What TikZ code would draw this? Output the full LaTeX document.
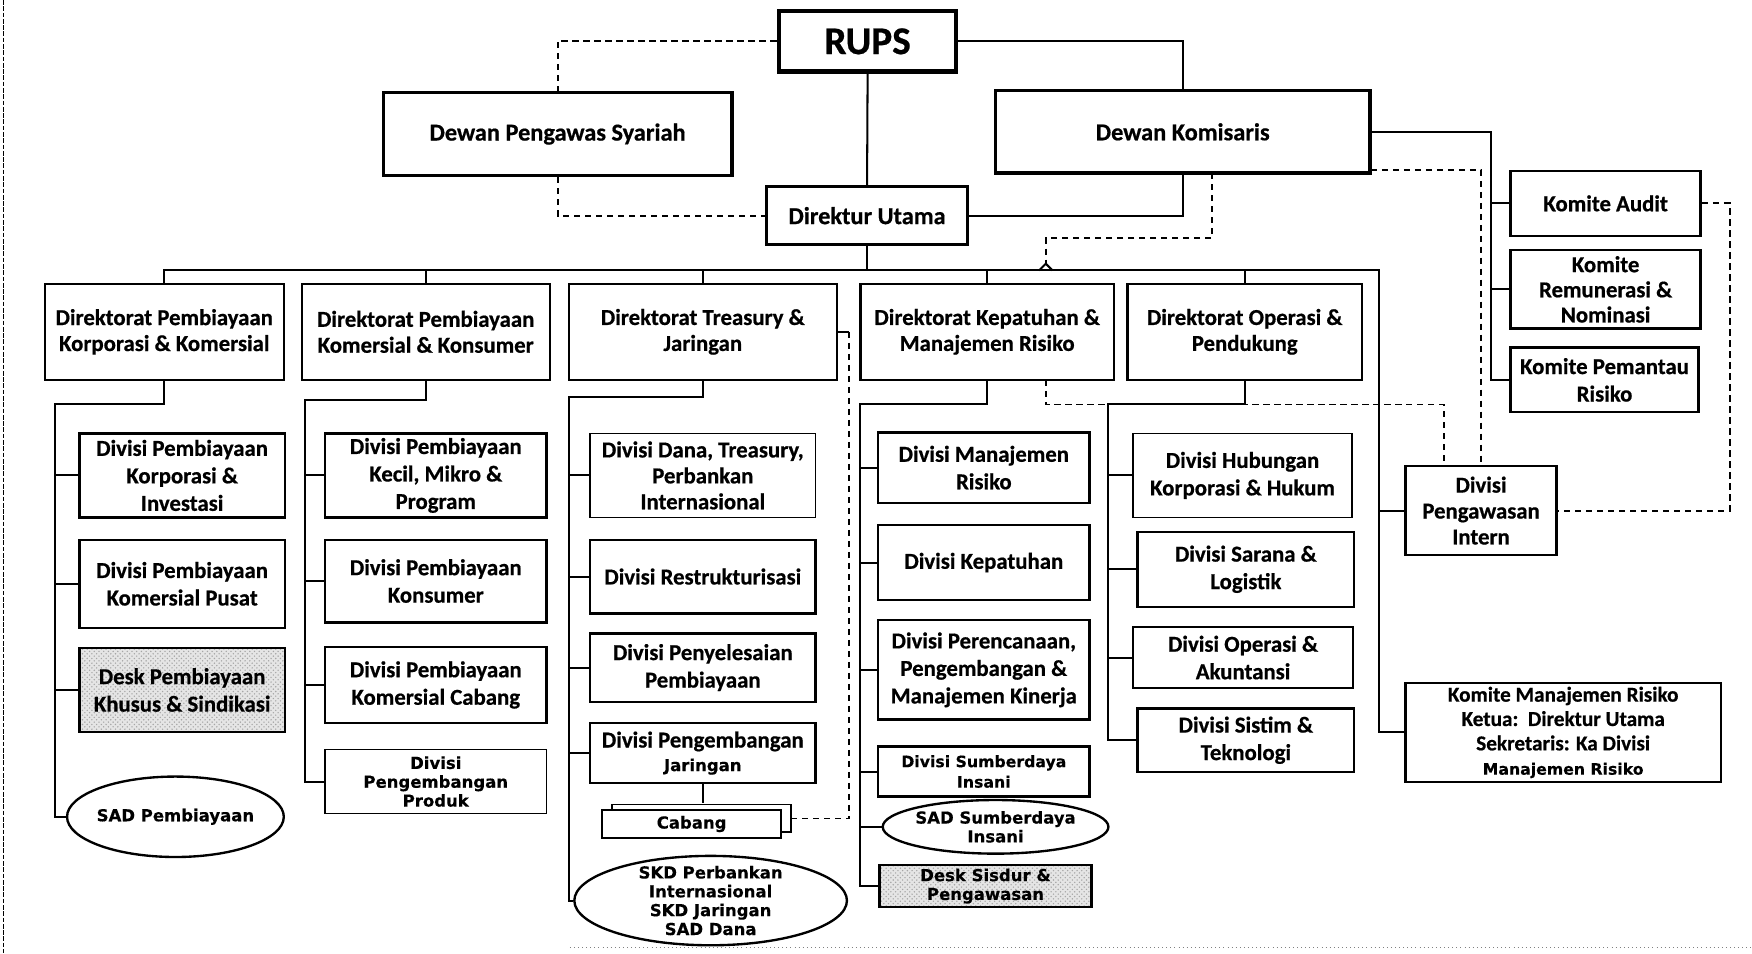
\documentclass[tikz,border=0pt]{standalone}
\usepackage{fontspec}
\setmainfont{Carlito}[BoldFeatures={FakeBold=0.6}]
\newfontfamily\widefont{DejaVu Sans}[BoldFeatures={FakeBold=0.3}]
\usetikzlibrary{positioning,shapes.geometric,shadows,patterns}

\tikzset{
  wh/.style 2 args={minimum width=#1*0.025cm, minimum height=#2*0.025cm},
  base/.style={draw, fill=white, align=center, inner sep=0pt},
  topbox/.style={base, line width=2.2pt, font=\bfseries\fontsize{15.5}{18}\selectfont},
  dirbox/.style={base, line width=1.5pt, font=\bfseries\fontsize{14.5}{16.5}\selectfont},
  divbox/.style={base, line width=1.5pt, font=\bfseries\fontsize{14.5}{17.5}\selectfont},
  thinbox/.style={divbox, line width=0.9pt},
  deskbox/.style={draw, align=center, inner sep=0pt, line width=1.5pt,
    font=\bfseries\fontsize{14.5}{17.5}\selectfont,
    preaction={fill=gray!20}, pattern=crosshatch dots, pattern color=gray!70},
  widetext/.style={font=\widefont\bfseries\fontsize{10.5}{12}\selectfont},
  sadell/.style={draw, ellipse, fill=white, line width=1.5pt, inner sep=0pt},
  lbl/.style={align=center, widetext},
  link/.style={line width=1.3pt},
  dlink/.style={line width=1.2pt, dash pattern=on 4pt off 3pt},
}

\begin{document}
\begin{tikzpicture}[x=0.025cm, y=-0.025cm]
    \useasboundingbox (0,0) rectangle (1568,853);

    % page edges of the scan
    \draw[line width=0.8pt, dash pattern=on 3pt off 1pt] (3,0) -- (3,853);
    \draw[gray, line width=0.6pt, dotted] (510,848) -- (1568,848);

    % board level
    \node[topbox, wh={159}{54}, line width=2.6pt, font=\bfseries\fontsize{25}{27}\selectfont] (rups) at (776.5,37) {RUPS};
    \node[topbox, wh={312}{74}] (dps) at (499,120) {Dewan Pengawas Syariah};
    \node[topbox, wh={335}{74}] (dk) at (1058.5,118) {Dewan Komisaris};
    \node[topbox, wh={180}{52}] (du) at (776,193) {Direktur Utama};

    % directorates
    \node[dirbox, wh={214}{86}] (d1) at (147,297) {Direktorat Pembiayaan\\Korporasi \& Komersial};
    \node[dirbox, wh={222}{86}] (d2) at (381,297) {Direktorat Pembiayaan\\Komersial \& Konsumer};
    \node[dirbox, wh={240}{86}] (d3) at (629,297) {Direktorat Treasury \&\\Jaringan};
    \node[dirbox, wh={227}{86}] (d4) at (883.5,297) {Direktorat Kepatuhan \&\\Manajemen Risiko};
    \node[dirbox, wh={210}{86}] (d5) at (1114,297) {Direktorat Operasi \&\\Pendukung};

    % Korporasi & Komersial
    \node[divbox, wh={184}{75}] (c1a) at (163,425.5) {Divisi Pembiayaan\\Korporasi \&\\Investasi};
    \node[divbox, wh={184}{79}] (c1b) at (163,522.5) {Divisi Pembiayaan\\Komersial Pusat};
    \node[deskbox, wh={184}{75}] (c1c) at (163,617.5) {Desk Pembiayaan\\Khusus \& Sindikasi};
    \node[sadell, wh={194}{72}, label={[lbl]center:SAD Pembiayaan}] (c1d) at (157,731) {};

    % Komersial & Konsumer
    \node[divbox, wh={198}{75}] (c2a) at (390,425.5) {Divisi Pembiayaan\\Kecil, Mikro \&\\Program};
    \node[divbox, wh={198}{74}] (c2b) at (390,520) {Divisi Pembiayaan\\Konsumer};
    \node[divbox, wh={198}{68}] (c2c) at (390,613) {Divisi Pembiayaan\\Komersial Cabang};
    \node[thinbox, wh={198}{57}, widetext] (c2d) at (390,699.5) {Divisi\\Pengembangan\\Produk};

    % Treasury & Jaringan
    \node[thinbox, wh={202}{75}, font=\bfseries\fontsize{14.5}{16.5}\selectfont] (c3a) at (629,425.5) {Divisi Dana, Treasury,\\Perbankan\\Internasional};
    \node[divbox, wh={202}{66}] (c3b) at (629,516) {Divisi Restrukturisasi};
    \node[divbox, wh={202}{61}] (c3c) at (629,597.5) {Divisi Penyelesaian\\Pembiayaan};
    \node[divbox, wh={202}{54}, font=\bfseries\fontsize{14.5}{15}\selectfont] (c3d) at (629,674) {Divisi Pengembangan\\{\widefont\fontsize{10.5}{12}\selectfont Jaringan}};
    \node[divbox, wh={160}{25}, widetext,
      copy shadow={shadow xshift=0.225cm, shadow yshift=0.125cm, draw, fill=white, line width=1.2pt}] (cabang) at (619,737.5) {Cabang};
    \node[sadell, wh={244}{80}, label={[lbl]center:SKD Perbankan\\Internasional\\SKD Jaringan\\SAD Dana}] (c3e) at (636,806) {};

    % Kepatuhan & Manajemen Risiko
    \node[divbox, wh={189}{63}] (c4a) at (880.5,418.5) {Divisi Manajemen\\Risiko};
    \node[divbox, wh={189}{67}] (c4b) at (880.5,503.5) {Divisi Kepatuhan};
    \node[divbox, wh={189}{89}] (c4c) at (880.5,599.5) {Divisi Perencanaan,\\Pengembangan \&\\Manajemen Kinerja};
    \node[divbox, wh={189}{45}, font=\widefont\bfseries\fontsize{10}{13}\selectfont] (c4d) at (880.5,690.5) {Divisi Sumberdaya\\Insani};
    \node[sadell, wh={202}{48}, label={[lbl]center:SAD Sumberdaya\\Insani}] (c4e) at (891,740) {};
    \node[deskbox, wh={190}{38}, widetext] (c4f) at (882,793) {Desk Sisdur \&\\Pengawasan};

    % Operasi & Pendukung
    \node[thinbox, wh={196}{75}] (c5a) at (1112,425.5) {Divisi Hubungan\\Korporasi \& Hukum};
    \node[divbox, wh={194}{67}] (c5b) at (1115,509.5) {Divisi Sarana \&\\Logistik};
    \node[divbox, wh={197}{55}] (c5c) at (1112.5,588.5) {Divisi Operasi \&\\Akuntansi};
    \node[divbox, wh={194}{57}] (c5d) at (1115,662.5) {Divisi Sistim \&\\Teknologi};

    % committees and internal audit
    \node[divbox, wh={170}{58}] (ka) at (1437,182) {Komite Audit};
    \node[divbox, wh={170}{70}, font=\bfseries\fontsize{14.5}{16}\selectfont] (krn) at (1437,259) {Komite\\Remunerasi \&\\Nominasi};
    \node[divbox, wh={168}{58}] (kpr) at (1436,340) {Komite Pemantau\\Risiko};
    \node[divbox, wh={135}{80}, font=\bfseries\fontsize{14.5}{16.5}\selectfont] (dpi) at (1325.5,457) {Divisi\\Pengawasan\\Intern};
    \node[divbox, wh={282}{89}, font=\bfseries\fontsize{13.5}{15.5}\selectfont] (kmr) at (1399,655.5) {Komite Manajemen Risiko\\Ketua:\ \ Direktur Utama\\Sekretaris: Ka Divisi\\{\widefont\fontsize{10}{12}\selectfont Manajemen Risiko}};

    % helper points
    \coordinate (bus) at (776,242);
    \coordinate (busR) at (1234,242);
    \coordinate (s1) at (49,362);
    \coordinate (s2) at (273,358);
    \coordinate (s3) at (509,355);
    \coordinate (s4) at (770,362);
    \coordinate (s5) at (992,362);
    \coordinate (tj) at (760,295);
    \coordinate (dkd) at (1085,155);
    \coordinate (cm) at (936,213);
    \coordinate (cr) at (936,236);
    \coordinate (kpd) at (936,340);
    \coordinate (dkse) at (1227,152);
    \coordinate (ks) at (1334,118);
    \coordinate (kar) at (1548,182);
    \coordinate (dpiA) at ([xshift=-0.8375cm]dpi.north);

    % top connections
    \draw[dlink] (rups.west) -| (dps.north);
    \draw[dlink] (dps.south) |- (du.west);
    \draw[link] (rups.south) -- (du.north);
    \draw[link] (rups.east) -| (dk.north);
    \draw[link] (dk.south) |- (du.east);
    \draw[dlink] (dkd) |- (cm) -- (cr);
    \draw[link] (cr) ++(-6,6) -- (cr) -- ++(6,6);

    % bus to directorates
    \draw[link] (du.south) -- (bus);
    \draw[link] (d1.north) |- (busR) |- (kmr.west);
    \foreach \d in {d2,d3,d4,d5}
        \draw[link] (\d.north) -- (\d.north |- busR);
    \draw[link] (dpi.west) -- (dpi.west -| busR);

    % spines
    \draw[link] (d1.south) |- (s1) |- (c1d.west);
    \foreach \n in {c1a,c1b,c1c}
        \draw[link] (\n.west) -- (\n.west -| s1);
    \draw[link] (d2.south) |- (s2) |- (c2d.west);
    \foreach \n in {c2a,c2b,c2c}
        \draw[link] (\n.west) -- (\n.west -| s2);
    \draw[link] (d3.south) |- (s3) |- (c3e.west);
    \foreach \n in {c3a,c3b,c3c,c3d}
        \draw[link] (\n.west) -- (\n.west -| s3);
    \draw[link] (c3d.south) -- ([yshift=0.125cm]c3d.south |- cabang.north);
    \draw[link] (d3.east) -- (d3.east -| tj);
    \draw[dlink] (d3.east -| tj) |- ([xshift=0.225cm, yshift=0.125cm]cabang.east);
    \draw[link] (d4.south) |- (s4) |- (c4f.west);
    \foreach \n in {c4a,c4b,c4c,c4d,c4e}
        \draw[link] (\n.west) -- (\n.west -| s4);
    \draw[link] (d5.south) |- (s5) |- (c5d.west);
    \foreach \n in {c5a,c5b,c5c}
        \draw[link] (\n.west) -- (\n.west -| s5);

    % committees
    \draw[link] (dk.east) -- (ks) |- (kpr.west);
    \foreach \n in {ka,krn}
        \draw[link] (\n.west) -- (\n.west -| ks);

    % internal audit lines
    \draw[dlink] (kpd) |- (dpiA |- s5) -- (dpiA);
    \draw[dlink] (dkse) -| (dpi.north);
    \draw[dlink] (ka.east) -- (kar) |- (dpi.east);
\end{tikzpicture}
\end{document}
